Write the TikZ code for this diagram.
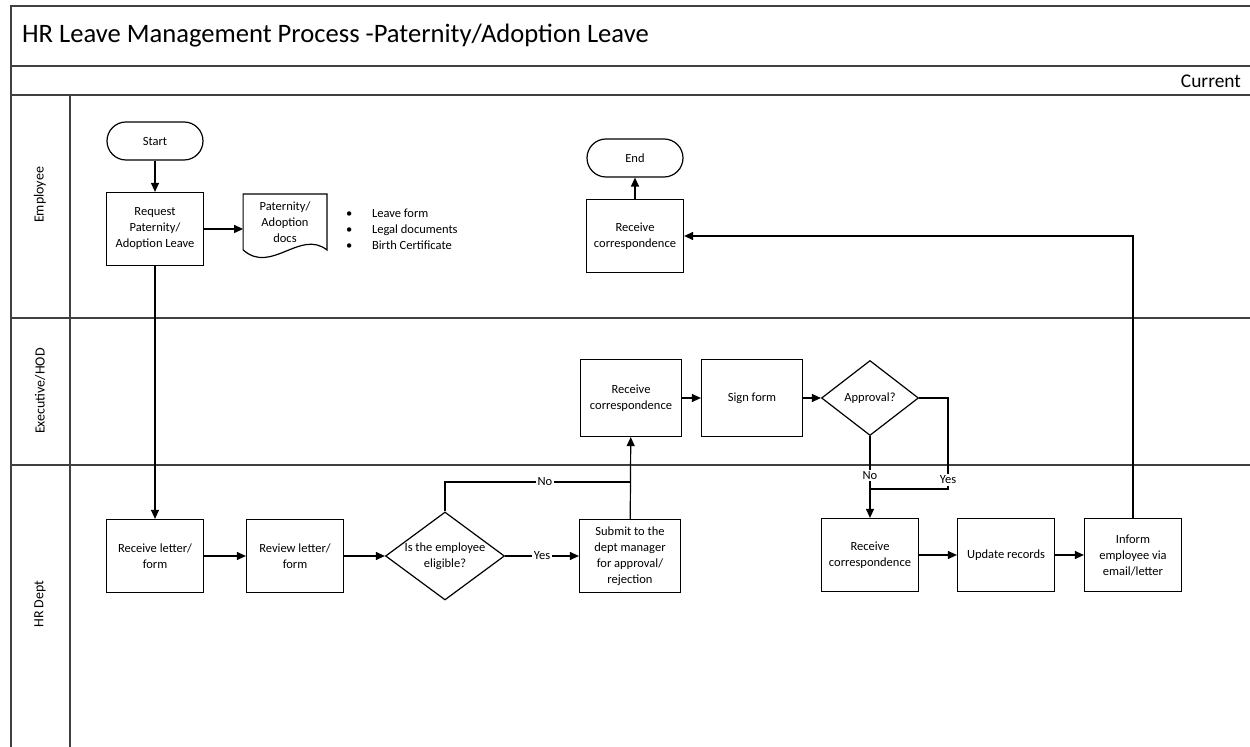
\documentclass[tikz,border=0pt]{standalone}
\usepackage{fontspec}
\setmainfont{Carlito}
\usetikzlibrary{shapes.geometric, arrows.meta}

\tikzset{
    lane/.style={draw=black!75, line width=0.8pt},
    stepbox/.style={draw, line width=0.6pt, minimum width=48.5pt, minimum height=36.5pt, align=center, inner sep=1pt},
    widebox/.style={stepbox, minimum width=50.5pt, minimum height=38.5pt},
    terminal/.style={draw, line width=0.6pt, rounded corners=9.5pt, minimum width=48pt, minimum height=19pt},
    decision/.style={draw, line width=0.6pt, diamond, inner sep=0pt},
    lbl/.style={fill=white, inner sep=0.8pt},
    flow/.style={line width=0.6pt, -{Triangle[length=4.5pt, width=4pt]}},
    link/.style={line width=0.6pt}
}

\begin{document}
\begin{tikzpicture}[x=0.5pt, y=-0.5pt, font=\fontsize{6.25}{8}\selectfont]
    \useasboundingbox (0,0) rectangle (1250,747);

    % Frame and swimlanes
    \draw[lane] (11,747) -- (11,6) -- (1250,6);
    \draw[lane] (11,66) -- (1250,66);
    \draw[lane] (11,95) -- (1250,95);
    \draw[lane] (11,318) -- (1250,318);
    \draw[lane] (11,465) -- (1250,465);
    \draw[lane] (70,95) -- (70,747);

    \node[anchor=west, font=\fontsize{13.3}{16}\selectfont] (title) at (15,36) {HR Leave Management Process -Paternity/Adoption Leave};
    \node[anchor=east, font=\fontsize{9.7}{11}\selectfont] (current) at (1248,81) {Current};

    \node[rotate=90, font=\fontsize{7}{8}\selectfont] (lnemp) at (40,195) {Employee};
    \node[rotate=90, font=\fontsize{7}{8}\selectfont] (lnexec) at (40,391) {Executive/HOD};
    \node[rotate=90, font=\fontsize{7}{8}\selectfont] (lnhr) at (40,604) {HR Dept};

    % Employee lane
    \node[terminal] (start) at (155,141) {Start};
    \node[stepbox] (req) at (155,229) {Request\\Paternity/\\Adoption Leave};
    \node[minimum width=41.5pt, minimum height=27.5pt, inner sep=0pt, align=center] (docs) at (285,222) {Paternity/\\Adoption\\docs};
    \draw[link] (docs.south west) -- (docs.north west) -- (docs.north east) -- (docs.south east)
        .. controls +(-27,-21) and +(28,25) .. (docs.south west);
    \node[anchor=west, align=left] (items) at (339,229)
        {\makebox[13pt][l]{\textbullet}Leave form\\\makebox[13pt][l]{\textbullet}Legal documents\\\makebox[13pt][l]{\textbullet}Birth Certificate};
    \node[terminal] (end) at (635,158) {End};
    \node[stepbox] (rcemp) at (635,236) {Receive\\correspondence};

    % Executive/HOD lane
    \node[widebox] (rcexec) at (631,398) {Receive\\correspondence};
    \node[widebox] (sign) at (752,398) {Sign form};
    \node[decision, minimum width=48.5pt, minimum height=37.5pt] (appr) at (870,398) {Approval?};

    % HR lane
    \node[stepbox] (rcv) at (155,556) {Receive letter/\\form};
    \node[stepbox] (rvw) at (295,556) {Review letter/\\form};
    \node[decision, minimum width=59.5pt, minimum height=44pt,
        label={[align=center]center:Is the employee\\eligible?}] (elig) at (445,556) {};
    \node[widebox, minimum height=36.5pt] (sub) at (630,556) {Submit to the\\dept manager\\for approval/\\rejection};
    \node[stepbox] (rchr) at (870,555) {Receive\\correspondence};
    \node[stepbox] (upd) at (1006,555) {Update records};
    \node[stepbox] (inf) at (1133,555) {Inform\\employee via\\email/letter};

    \coordinate (nojoin) at (630,482);
    \coordinate (merge) at (870,489);
    \coordinate (yesturn) at (948,489);

    % Connectors
    \draw[flow] (start) -- (req);
    \draw[flow] (req.east) -- (req.east -| docs.west);
    \draw[flow] (req) -- (rcv);
    \draw[flow] (rcv) -- (rvw);
    \draw[flow] (rvw) -- (elig);
    \draw[flow] (elig) -- node[lbl] {Yes} (sub);
    \draw[link] (elig.north) |- node[lbl, pos=0.77] {No} (nojoin);
    \draw[flow] (sub) -- (rcexec);
    \draw[flow] (rcexec) -- (sign);
    \draw[flow] (sign) -- (appr);
    \draw[link] (appr.south) -- node[lbl, pos=0.74] {No} (merge);
    \draw[link] (appr.east) -| node[lbl, pos=0.95] {Yes} (yesturn) -- (merge);
    \draw[flow] (merge) -- (rchr);
    \draw[flow] (rchr) -- (upd);
    \draw[flow] (upd) -- (inf);
    \draw[flow] (inf.north) |- (rcemp.east);
    \draw[flow] (rcemp) -- (end);
\end{tikzpicture}
\end{document}
